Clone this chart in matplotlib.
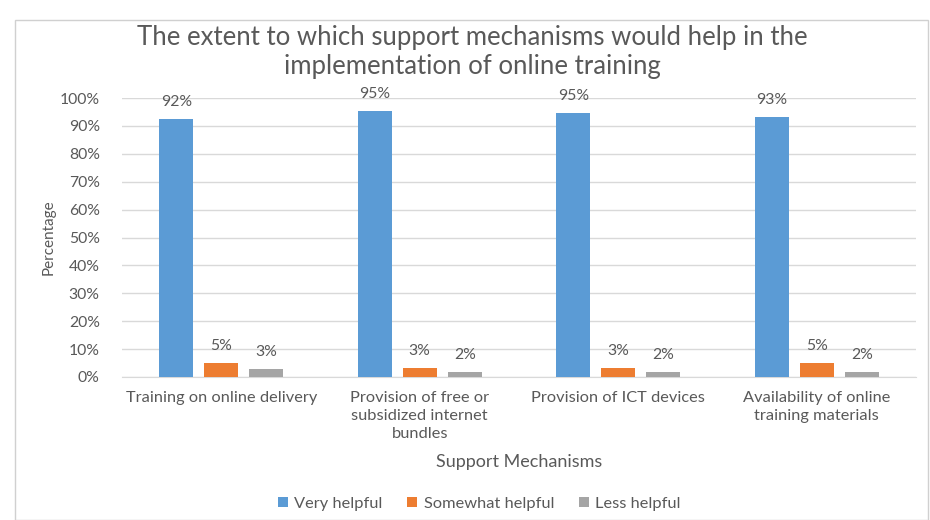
import numpy as np
import matplotlib.pyplot as plt
from matplotlib.patches import Rectangle

categories = ['Training on online delivery',
              'Provision of free or\nsubsidized internet\nbundles',
              'Provision of ICT devices',
              'Availability of online\ntraining materials']
series_names = ['Very helpful', 'Somewhat helpful', 'Less helpful']
very_helpful = [92.4, 95.2, 94.7, 93.3]
somewhat_helpful = [4.9, 3.1, 3.3, 4.9]
less_helpful = [2.7, 1.8, 1.9, 1.8]
labels_very = ['92%', '95%', '95%', '93%']
labels_somewhat = ['5%', '3%', '3%', '5%']
labels_less = ['3%', '2%', '2%', '2%']

colors = ['#5B9BD5', '#ED7D31', '#A5A5A5']
txt = '#595959'

plt.rcParams['font.family'] = ['Lato', 'DejaVu Sans']

fig = plt.figure(figsize=(9.3, 5.2), dpi=100)
ax = fig.add_axes([122/930, 1 - 377/520, 794/930, 279/520])

# chart border
fig.patches.append(Rectangle((15/930, 0), 913/930, 500/520, transform=fig.transFigure,
                             fill=False, edgecolor='#d0d0d0', linewidth=1))

x = np.arange(len(categories))
w = 0.171
off = 0.227
data = [very_helpful, somewhat_helpful, less_helpful]
labs = [labels_very, labels_somewhat, labels_less]
for i, (vals, lab) in enumerate(zip(data, labs)):
    pos = x + (i - 1) * off
    ax.bar(pos, vals, width=w, color=colors[i], label=series_names[i], zorder=3)
    for p, v, l in zip(pos, vals, lab):
        ax.text(p, v + 3.6, l, ha='center', va='bottom', fontsize=11.3, color=txt)

ax.set_xlim(-0.5, 3.5)
ax.set_ylim(0, 100)
ax.set_yticks(np.arange(0, 101, 10))
ax.set_yticklabels([f'{t}%' for t in range(0, 101, 10)])
ax.grid(axis='y', color='#d9d9d9', linewidth=1, zorder=0)
for s in ['top', 'right', 'left']:
    ax.spines[s].set_visible(False)
ax.spines['bottom'].set_color('#d9d9d9')
ax.tick_params(axis='both', length=0, colors=txt)
ax.tick_params(axis='y', pad=16, labelsize=11.3)
ax.tick_params(axis='x', pad=10, labelsize=11.8)
ax.set_xticks(x)
ax.set_xticklabels(categories, linespacing=1.35)

ax.set_ylabel('Percentage', color=txt, fontsize=11, labelpad=3)
ax.set_xlabel('Support Mechanisms', color=txt, fontsize=13, labelpad=10)

fig.text(0.508, 1 - 52/520, 'The extent to which support mechanisms would help in the\nimplementation of online training',
         ha='center', va='center', fontsize=18.5, color=txt, linespacing=1.2)

ax.legend(loc='center', bbox_to_anchor=(0.45, (377 - 504) / 279), ncol=3, frameon=False,
          fontsize=11.8, handlelength=0.6, handleheight=0.6, handletextpad=0.4,
          columnspacing=1.5, labelcolor=txt)

fig.savefig('out.png', dpi=100)
